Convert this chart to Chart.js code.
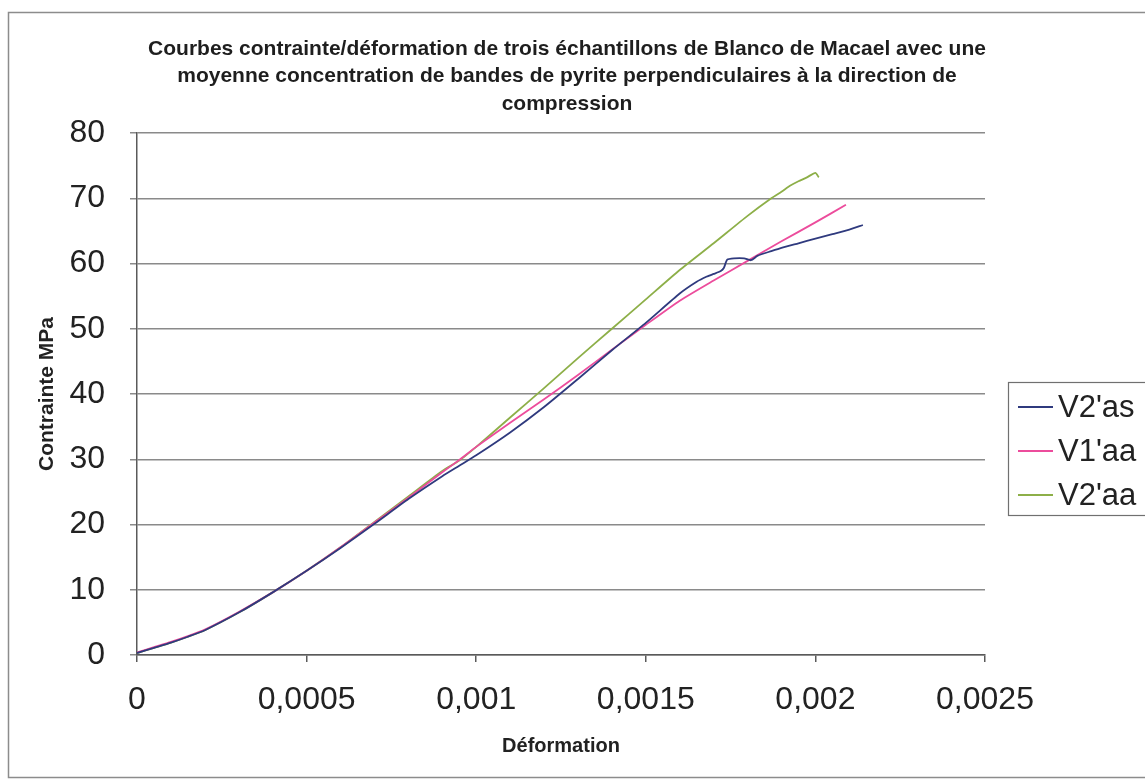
<!DOCTYPE html>
<html lang="fr">
<head>
<meta charset="utf-8">
<title>Courbes contrainte/déformation</title>
<script src="https://cdn.jsdelivr.net/npm/chart.js@4.4.1/dist/chart.umd.min.js"></script>
<style>
    html, body { margin: 0; padding: 0; background: #fff; }
    #wrap { position: relative; width: 1145px; height: 783px; }
</style>
</head>
<body>
<div id="wrap"><canvas id="stressChart" width="1145" height="783"></canvas></div>
<script>
(function () {
    'use strict';

    // --- data (strain, stress MPa) ---
    var titleLines = [
        'Courbes contrainte/déformation de trois échantillons de Blanco de Macael avec une',
        'moyenne concentration de bandes de pyrite perpendiculaires à la direction de',
        'compression'
    ];
    var xTitle = 'Déformation';
    var yTitle = 'Contrainte MPa';
    var xTickLabels = ['0', '0,0005', '0,001', '0,0015', '0,002', '0,0025'];
    var yTickLabels = ['0', '10', '20', '30', '40', '50', '60', '70', '80'];

    var v2asStrain = [0, 0.00005, 0.0001, 0.00015, 0.0002, 0.0003, 0.0004, 0.0005, 0.0006, 0.0007, 0.0008, 0.0009, 0.00095, 0.001, 0.0011, 0.0012, 0.0013, 0.0014, 0.0015, 0.0016, 0.00165, 0.00168, 0.0017, 0.00172, 0.00173, 0.00174, 0.00176, 0.00179, 0.00181, 0.00183, 0.00187, 0.0019, 0.00195, 0.002, 0.00205, 0.0021, 0.00214];
    var v2asStress = [0.3, 1.1, 1.9, 2.8, 3.8, 6.5, 9.6, 12.9, 16.4, 20.1, 23.9, 27.4, 29.0, 30.6, 34.1, 38.0, 42.3, 46.7, 50.9, 55.4, 57.2, 58.0, 58.4, 58.8, 59.3, 60.6, 60.8, 60.8, 60.5, 61.2, 61.9, 62.4, 63.1, 63.8, 64.5, 65.2, 65.9];

    var v1aaStrain = [0, 0.00005, 0.0001, 0.00015, 0.0002, 0.0003, 0.0004, 0.0005, 0.0006, 0.0007, 0.0008, 0.0009, 0.00095, 0.001, 0.0011, 0.0012, 0.0013, 0.0014, 0.0015, 0.0016, 0.0017, 0.0018, 0.0019, 0.002, 0.00209];
    var v1aaStress = [0.4, 1.2, 2.0, 2.9, 3.9, 6.6, 9.6, 12.9, 16.5, 20.3, 24.1, 28.0, 29.9, 31.9, 35.6, 39.2, 42.9, 46.8, 50.6, 54.3, 57.4, 60.4, 63.4, 66.3, 69.0];

    var v2aaStrain = [0, 0.00005, 0.0001, 0.00015, 0.0002, 0.0003, 0.0004, 0.0005, 0.0006, 0.0007, 0.0008, 0.0009, 0.00095, 0.001, 0.0011, 0.0012, 0.0013, 0.0014, 0.0015, 0.0016, 0.0017, 0.0018, 0.00187, 0.0019, 0.001925, 0.00195, 0.001975, 0.002, 0.00201];
    var v2aaStress = [0.3, 1.1, 1.9, 2.8, 3.8, 6.5, 9.6, 12.9, 16.5, 20.4, 24.3, 28.2, 29.8, 31.9, 36.4, 40.9, 45.5, 50.0, 54.5, 59.0, 63.1, 67.3, 70.0, 71.0, 71.9, 72.6, 73.2, 73.9, 73.2];

    var seriesNames = ["V2'as", "V1'aa", "V2'aa"];
    var seriesColors = ['#2f3a7e', '#ec4c9c', '#8daf48'];

    function toPoints(xs, ys) {
        return xs.map(function (x, i) { return { x: x, y: ys[i] }; });
    }

    var FONT = "'Liberation Sans', Arial, sans-serif";

    // title, legend and outer frame drawn on the canvas
    var decorations = {
        id: 'decorations',
        beforeDraw: function (chart) {
            var ctx = chart.ctx;
            ctx.save();
            ctx.fillStyle = '#fff';
            ctx.fillRect(0, 0, chart.width, chart.height);
            ctx.restore();
        },
        afterDraw: function (chart) {
            var ctx = chart.ctx;
            ctx.save();
            ctx.strokeStyle = '#8c8c8c';
            ctx.lineWidth = 1.5;
            ctx.strokeRect(8.5, 12.5, 1150, 765);

            ctx.fillStyle = '#1e1e1e';
            ctx.font = 'bold 21px ' + FONT;
            ctx.textAlign = 'center';
            ctx.textBaseline = 'middle';
            titleLines.forEach(function (line, i) {
                ctx.fillText(line, 567, 49 + i * 27.5);
            });

            ctx.strokeStyle = '#707070';
            ctx.lineWidth = 1.2;
            ctx.strokeRect(1008.5, 382.5, 150, 133);
            ctx.font = '31px ' + FONT;
            ctx.textAlign = 'left';
            seriesNames.forEach(function (name, i) {
                var y = 407 + i * 44;
                ctx.strokeStyle = seriesColors[i];
                ctx.lineWidth = 1.8;
                ctx.beginPath();
                ctx.moveTo(1018, y);
                ctx.lineTo(1053, y);
                ctx.stroke();
                ctx.fillStyle = '#222';
                ctx.fillText(name, 1058, y + 1);
            });
            ctx.restore();
        }
    };

    function init() {
        var el = document.getElementById('stressChart');
        if (!el || typeof Chart === 'undefined') return;

        var pairs = [[v2asStrain, v2asStress], [v1aaStrain, v1aaStress], [v2aaStrain, v2aaStress]];
        var datasets = pairs.map(function (p, i) {
            return {
                label: seriesNames[i],
                data: toPoints(p[0], p[1]),
                borderColor: seriesColors[i],
                backgroundColor: seriesColors[i],
                borderWidth: 1.8,
                pointRadius: 0,
                showLine: true,
                tension: 0.2
            };
        });

        new Chart(el, {
            type: 'scatter',
            data: { datasets: datasets },
            options: {
                responsive: false,
                animation: false,
                layout: { padding: { top: 133, right: 160, bottom: 0, left: 0 } },
                plugins: {
                    legend: { display: false },
                    title: { display: false },
                    tooltip: { enabled: false }
                },
                scales: {
                    x: {
                        type: 'linear',
                        min: 0,
                        max: 0.0025,
                        afterFit: function (scale) { scale.height = 128; },
                        afterBuildTicks: function (scale) {
                            scale.ticks = xTickLabels.map(function (t, i) { return { value: i * 0.0005 }; });
                        },
                        ticks: {
                            autoSkip: false,
                            maxRotation: 0,
                            padding: 19,
                            color: '#222',
                            font: { family: FONT, size: 32 },
                            callback: function (v, i) { return xTickLabels[i]; }
                        },
                        grid: { drawOnChartArea: false, drawTicks: true, tickLength: 7, color: '#5a5a5a', lineWidth: 1.5 },
                        border: { display: true, color: '#5a5a5a', width: 1.5 },
                        title: {
                            display: true,
                            text: xTitle,
                            color: '#222',
                            font: { family: FONT, size: 20, weight: 'bold' },
                            padding: { top: 0, bottom: 25 }
                        }
                    },
                    y: {
                        type: 'linear',
                        min: 0,
                        max: 80,
                        afterFit: function (scale) { scale.width = 137; },
                        afterBuildTicks: function (scale) {
                            scale.ticks = yTickLabels.map(function (t, i) { return { value: i * 10 }; });
                        },
                        ticks: {
                            padding: 25,
                            color: '#222',
                            font: { family: FONT, size: 32 },
                            callback: function (v, i) { return yTickLabels[i]; }
                        },
                        grid: { drawOnChartArea: true, drawTicks: true, tickLength: 7, color: '#8a8a8a', lineWidth: 1.5 },
                        border: { display: true, color: '#5a5a5a', width: 1.5 },
                        title: {
                            display: true,
                            text: yTitle,
                            color: '#222',
                            font: { family: FONT, size: 21, weight: 'bold' },
                            padding: { top: 35, bottom: 0 }
                        }
                    }
                }
            },
            plugins: [decorations]
        });
    }

    if (document.readyState === 'loading') {
        document.addEventListener('DOMContentLoaded', init);
    } else {
        init();
    }
})();
</script>
</body>
</html>
